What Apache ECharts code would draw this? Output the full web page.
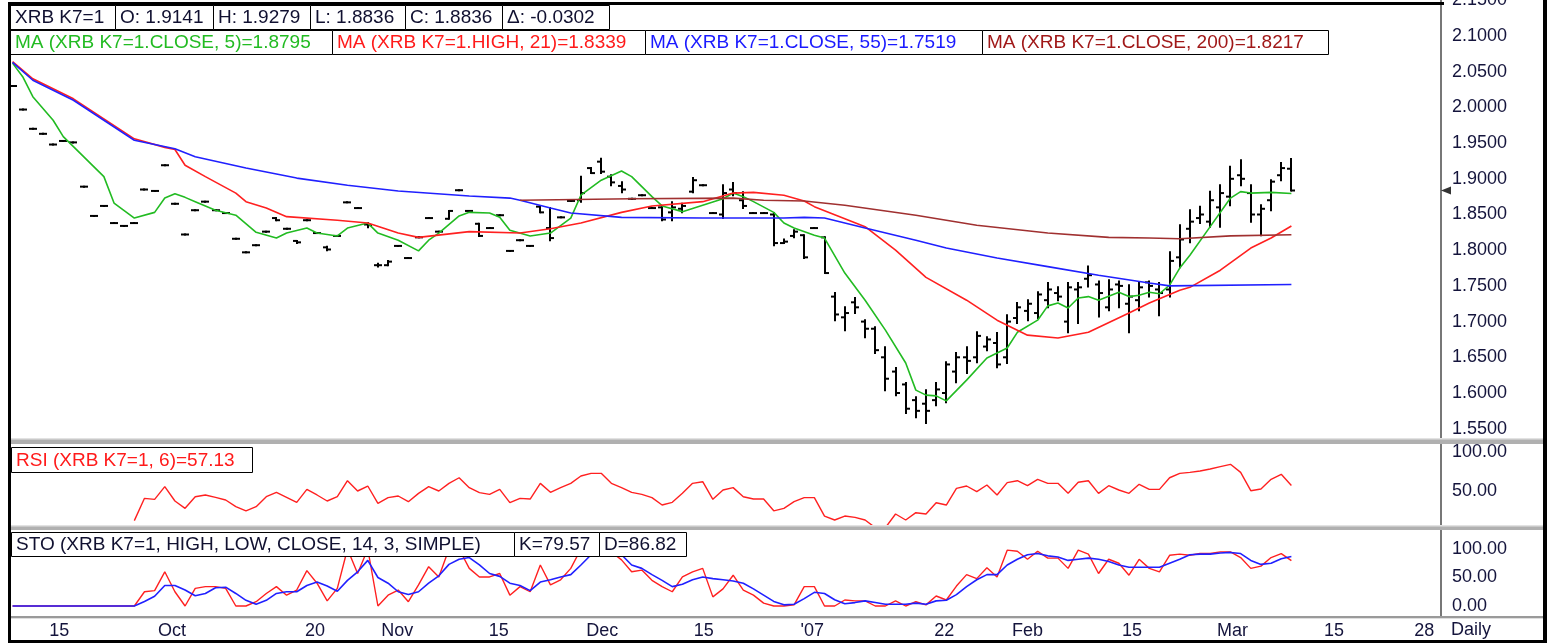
<!DOCTYPE html>
<html><head><meta charset="utf-8">
<script src="https://cdn.jsdelivr.net/npm/echarts@6/dist/echarts.min.js"></script>
<style>html,body{margin:0;padding:0;background:#fff}#c{width:1551px;height:643px}</style>
</head><body><div id="c"></div><script>
// ---- daily bars (index 0 = first visible trading day) ----
const open = [
2.030,1.997,1.970,1.963,1.948,1.953,1.951,1.889,1.848,1.862,
1.838,1.834,1.838,1.885,1.883,1.919,1.865,1.822,1.856,1.868,
1.856,1.852,1.816,1.797,1.807,1.826,1.845,1.830,1.813,1.842,
1.824,1.804,1.820,1.867,1.859,1.836,1.779,1.779,1.806,1.789,
1.818,1.845,1.826,1.844,1.884,1.855,1.837,1.831,1.849,1.799,
1.814,1.806,1.861,1.831,1.846,1.869,1.870,1.915,1.924,1.903,
1.890,1.872,1.877,1.859,1.860,1.853,1.858,1.882,1.891,1.852,
1.850,1.885,1.870,1.852,1.852,1.850,1.810,1.820,1.821,1.831,
1.818,1.735,1.706,1.727,1.700,1.690,1.650,1.630,1.612,1.590,
1.585,1.590,1.600,1.630,1.650,1.650,1.665,1.670,1.650,1.705,
1.715,1.712,1.730,1.740,1.700,1.745,1.760,1.752,1.720,1.752,
1.725,1.730,1.755,1.745,1.745,1.790,1.830,1.845,1.840,1.860,
1.875,1.905,1.880,1.850,1.870,1.905,1.9141];
const high = [
2.030,1.997,1.970,1.963,1.948,1.953,1.951,1.889,1.848,1.862,
1.838,1.834,1.838,1.885,1.883,1.919,1.865,1.822,1.856,1.868,
1.856,1.852,1.816,1.797,1.807,1.826,1.845,1.830,1.813,1.842,
1.824,1.805,1.820,1.867,1.859,1.838,1.781,1.785,1.806,1.789,
1.818,1.845,1.826,1.855,1.884,1.855,1.837,1.831,1.849,1.799,
1.814,1.806,1.861,1.859,1.846,1.869,1.903,1.915,1.928,1.905,
1.895,1.872,1.877,1.859,1.861,1.867,1.865,1.901,1.891,1.852,
1.891,1.894,1.881,1.852,1.852,1.852,1.815,1.828,1.821,1.831,
1.818,1.740,1.720,1.733,1.702,1.692,1.664,1.635,1.614,1.594,
1.604,1.614,1.643,1.656,1.664,1.685,1.678,1.684,1.709,1.726,
1.730,1.741,1.754,1.748,1.754,1.754,1.777,1.756,1.758,1.756,
1.751,1.754,1.756,1.754,1.797,1.835,1.856,1.861,1.882,1.891,
1.917,1.926,1.891,1.863,1.898,1.922,1.9279];
const low = [
2.030,1.997,1.970,1.963,1.948,1.953,1.951,1.889,1.848,1.862,
1.838,1.834,1.838,1.885,1.883,1.919,1.865,1.822,1.856,1.868,
1.856,1.852,1.816,1.797,1.807,1.826,1.842,1.830,1.810,1.842,
1.824,1.800,1.820,1.867,1.859,1.832,1.777,1.779,1.806,1.789,
1.818,1.845,1.826,1.844,1.884,1.855,1.820,1.831,1.849,1.799,
1.814,1.806,1.853,1.814,1.846,1.869,1.868,1.908,1.908,1.891,
1.881,1.872,1.877,1.859,1.842,1.842,1.853,1.881,1.891,1.852,
1.845,1.877,1.859,1.852,1.852,1.807,1.810,1.818,1.789,1.831,
1.768,1.702,1.688,1.712,1.678,1.656,1.604,1.597,1.572,1.566,
1.558,1.583,1.587,1.615,1.628,1.643,1.660,1.636,1.642,1.698,
1.702,1.705,1.720,1.730,1.685,1.698,1.749,1.707,1.716,1.720,
1.685,1.716,1.735,1.709,1.735,1.776,1.811,1.838,1.833,1.833,
1.863,1.891,1.840,1.821,1.856,1.898,1.8836];
const close = [
2.030,1.997,1.970,1.963,1.948,1.953,1.951,1.889,1.848,1.862,
1.838,1.834,1.838,1.885,1.883,1.919,1.865,1.822,1.856,1.868,
1.856,1.852,1.816,1.797,1.807,1.826,1.842,1.830,1.811,1.842,
1.824,1.801,1.820,1.867,1.859,1.835,1.779,1.784,1.806,1.789,
1.818,1.845,1.826,1.855,1.884,1.855,1.820,1.831,1.849,1.799,
1.814,1.806,1.853,1.817,1.846,1.869,1.880,1.908,1.910,1.895,
1.885,1.872,1.877,1.859,1.843,1.860,1.862,1.898,1.891,1.852,
1.880,1.880,1.862,1.852,1.852,1.810,1.812,1.826,1.790,1.831,
1.768,1.710,1.712,1.720,1.690,1.660,1.620,1.600,1.578,1.575,
1.575,1.605,1.640,1.650,1.645,1.680,1.675,1.640,1.700,1.720,
1.725,1.738,1.745,1.735,1.748,1.748,1.765,1.740,1.745,1.750,
1.735,1.748,1.750,1.740,1.785,1.815,1.840,1.850,1.870,1.880,
1.900,1.900,1.850,1.858,1.896,1.915,1.8836];

// ---- moving averages as [bar, value] ----
const ma5 = [[0,2.062],[1,2.043],[2,2.015],[4,1.982],[5,1.959],[7,1.931],[9,1.903],[10,1.866],[12,1.845],[14,1.853],[15,1.873],[16,1.879],[17,1.874],[18,1.868],[20,1.856],[22,1.849],[24,1.825],[26,1.817],[27,1.824],[29,1.831],[30,1.824],[32,1.820],[33,1.831],[35,1.838],[36,1.824],[38,1.814],[40,1.799],[41,1.814],[42,1.824],[44,1.848],[45,1.853],[47,1.852],[48,1.846],[49,1.828],[51,1.820],[53,1.824],[55,1.845],[56,1.877],[58,1.898],[60,1.911],[61,1.903],[63,1.875],[64,1.862],[66,1.854],[68,1.863],[70,1.872],[71,1.880],[72,1.875],[73,1.868],[75,1.853],[76,1.838],[77,1.831],[79,1.821],[80,1.817],[82,1.768],[84,1.730],[86,1.688],[88,1.642],[89,1.604],[90,1.597],[91,1.596],[92,1.589],[94,1.618],[96,1.649],[98,1.663],[99,1.685],[101,1.702],[102,1.722],[103,1.726],[104,1.719],[105,1.733],[106,1.735],[107,1.730],[109,1.741],[110,1.735],[111,1.737],[112,1.741],[113,1.739],[114,1.751],[115,1.775],[116,1.793],[118,1.833],[120,1.873],[121,1.882],[122,1.880],[124,1.881],[126,1.8795]];
const ma21 = [[0,2.064],[2,2.040],[4,2.026],[6,2.012],[9,1.984],[12,1.956],[15,1.944],[16,1.941],[17,1.919],[19,1.903],[22,1.880],[23,1.868],[25,1.859],[27,1.847],[32,1.842],[35,1.838],[38,1.824],[40,1.818],[45,1.826],[50,1.824],[53,1.830],[56,1.838],[60,1.853],[63,1.862],[68,1.868],[71,1.880],[73,1.881],[76,1.877],[78,1.869],[79,1.861],[84,1.833],[87,1.800],[90,1.762],[94,1.730],[97,1.702],[100,1.681],[103,1.677],[106,1.685],[110,1.712],[112,1.726],[115,1.744],[116,1.748],[119,1.772],[122,1.803],[124,1.817],[126,1.8339]];
const ma55 = [[0,2.063],[2,2.038],[4,2.024],[6,2.010],[9,1.982],[12,1.954],[16,1.942],[18,1.931],[23,1.915],[28,1.901],[33,1.891],[38,1.883],[45,1.876],[49,1.873],[50,1.870],[53,1.859],[55,1.852],[60,1.846],[68,1.845],[76,1.845],[78,1.846],[80,1.845],[84,1.831],[89,1.814],[92,1.803],[97,1.789],[102,1.777],[107,1.765],[112,1.754],[114,1.750],[126,1.7519]];
const ma200 = [[50,1.870],[61,1.872],[71,1.873],[74,1.870],[78,1.869],[82,1.863],[89,1.849],[95,1.835],[102,1.824],[108,1.818],[112,1.817],[115,1.816],[120,1.820],[126,1.8217]];

// ---- indicators per bar ----
const rsi = [
null,null,null,null,null,null,null,null,null,null,
null,null,12,40.6,39.3,55.6,37.2,27.8,42.7,44.9,
41.9,38.5,29.9,24.4,29.9,42.7,48.3,41.9,35.5,52.1,
44.9,37.2,42.7,63.2,50,56.4,34.2,41.5,43.6,36.3,
47,55.6,50,59.8,67,54.3,47.9,45.7,52.1,35,
40.6,39.7,59.8,48.3,54.3,59.8,69.2,72.6,72.6,59.8,
54.3,48.3,45.7,41.5,32,35.5,47,59.8,61.9,39.3,
51.3,54.3,42.7,39.7,39.7,24.6,27.8,36.3,41.5,41.5,
17.9,12.8,17.9,16.2,12.8,3,3,20.5,12.8,22.2,
20.5,35,32,53.4,56.4,49.1,57.7,44.9,60.7,63.2,
56.8,65,59.8,59.8,47,61.2,63.2,47,56.8,51.3,
47,58.6,52.1,52.1,67,72.6,73.9,75.6,78.2,81.2,
84.2,73.9,50.4,52.6,65,71.4,57.13];
const stoK = [
0,0,0,0,0,0,0,0,0,0,
0,0,0,25,27,60,25,0,31,34,
34,31,0,0,7.5,22,34,19,28,62,
40,9,31,100,57,100,0,19,28,7.5,
37,69,51,100,100,66,51,51,57,19,
34,25,72,37,46,66,100,100,100,95,
81,60,63,45,34,25,51,60,66,16,
30,54,28,19,5,0,0,2,34,34,
0,0,10.5,9,9,0,0,9,0,7.5,
2,17.5,10.5,35,55,48,67,51,98,96,
82,96,84,84,66,98,91,57,82,75,
54,82,66,60,89,91,89,92,92,95,
95,85,66,70,85,92,79.57];
const stoD = [
0,0,0,0,0,0,0,0,0,0,
0,0,0,8,17,36,36,28,18,22,
32,33,22,10,3,10,22,25,25,36,
42,35,26,45,60,80,50,40,25,20,
25,40,53,73,82,85,72,57,52,40,
36,27,42,46,51,55,72,90,100,98,
90,72,66,55,45,34,38,46,51,48,
46,44,40,30,19,8,2,3,13,24,
22,11,4,6,9,6,3,3,3,5,
3,9,10,20,34,46,55,55,72,82,
90,92,88,86,80,82,84,82,78,72,
68,68,68,68,75,82,90,91,91,93,
94,92,80,73,75,83,86.82];

// ---- tick labels ----
const xTickPos  = [4.6, 15.7, 29.8, 37.9, 47.9, 58.1, 68.1, 78.8, 91.8, 100.0, 110.3, 120.2, 130.2, 139.1];
const xTickText = ['15','Oct','20','Nov','15','Dec','15',"'07",'22','Feb','15','Mar','15','28'];
const priceTicks = [1.55,1.60,1.65,1.70,1.75,1.80,1.85,1.90,1.95,2.00,2.05,2.10,2.15];
const rsiTicks = [50,100];
const stoTicks = [0,50,100];
const lastClose = 1.8836;

// ---- build ----
const FONT = 'Liberation Sans';
const LBL = '#14143c';
const XMIN = -0.25, XMAX = 140.74;
const ohlc = open.map((o,i)=>[i,o,high[i],low[i],close[i]]);
const idx = a => a.map((v,i)=>[i,v]);

function box(x,y,w,h,text,color){
  return [
    {type:'rect', z:100, shape:{x:x+0.5,y:y+0.5,width:w,height:h}, style:{fill:'#fff',stroke:'#000',lineWidth:1}},
    {type:'text', z:101, x:x+5, y:y+h/2+1, style:{text:text, fill:color, fontSize:19, fontFamily:FONT, verticalAlign:'middle'}}
  ];
}
const G = [];
[['XRB K7=1',10,105],['O: 1.9141',115,98],['H: 1.9279',213,97],['L: 1.8836',310,95],['C: 1.8836',405,97],['\u0394: -0.0302',502,107]]
  .forEach(b=>G.push(...box(b[1],5,b[2],24,b[0],'#101030')));
[['MA (XRB K7=1.CLOSE, 5)=1.8795',10,322,'#22bb22'],['MA (XRB K7=1.HIGH, 21)=1.8339',332,313,'#ff1a1a'],['MA (XRB K7=1.CLOSE, 55)=1.7519',645,337,'#1a1aff'],['MA (XRB K7=1.CLOSE, 200)=1.8217',982,346,'#a01818']]
  .forEach(b=>G.push(...box(b[1],30,b[2],24,b[0],b[3])));
G.push(...box(11,447,241,25,'RSI (XRB K7=1, 6)=57.13','#ff1a1a'));
G.push(...box(11,532,503,24,'STO (XRB K7=1, HIGH, LOW, CLOSE, 14, 3, SIMPLE)','#101030'));
G.push(...box(514,532,85,24,'K=79.57','#101030'));
G.push(...box(599,532,87,24,'D=86.82','#101030'));
// panel separators
[[438,444],[525,530]].forEach(([a,b])=>{
  G.push({type:'rect',z:90,shape:{x:8,y:a,width:1538,height:b-a},style:{fill:'#b0b0b0'}});
  G.push({type:'rect',z:91,shape:{x:8,y:a,width:1538,height:1.5},style:{fill:'#e2e2e2'}});
});
G.push({type:'rect',z:90,shape:{x:8,y:616,width:1538,height:2},style:{fill:'#9a9a9a'}});
G.push({type:'rect',z:90,shape:{x:8,y:618,width:1538,height:1},style:{fill:'#dedede'}});
// frame
G.push({type:'rect',z:110,shape:{x:8,y:2,width:1436,height:3},style:{fill:'#000'}});
G.push({type:'rect',z:110,shape:{x:8,y:2,width:3,height:641},style:{fill:'#000'}});
G.push({type:'rect',z:110,shape:{x:8,y:640,width:1539,height:3},style:{fill:'#000'}});
G.push({type:'rect',z:110,shape:{x:1543,y:0,width:4,height:643},style:{fill:'#000'}});
G.push({type:'text',z:101,x:1451,y:630,style:{text:'Daily',fill:LBL,fontSize:18,fontFamily:FONT,verticalAlign:'middle'}});

function yAx(grid,min,max,ticks,dec){
  return {gridIndex:grid,type:'value',position:'right',min:min,max:max,
    axisLine:{show:true,onZero:false,lineStyle:{color:'#777',width:2}},
    axisTick:{show:false},splitLine:{show:false},
    axisLabel:{customValues:ticks,formatter:v=>v.toFixed(dec),margin:11,fontSize:18,fontFamily:FONT,color:LBL}};
}
function xAx(grid,show){
  return {gridIndex:grid,type:'value',min:XMIN,max:XMAX,show:show,
    axisLine:{show:false},axisTick:{show:false},splitLine:{show:false},
    axisLabel:{customValues:xTickPos,margin:6,fontSize:18,fontFamily:FONT,color:LBL,
      formatter:v=>{const k=xTickPos.findIndex(p=>Math.abs(p-v)<1e-6);return k>=0?xTickText[k]:'';}}};
}
const lineS = (name,data,color,xi,yi,w)=>({name,type:'line',xAxisIndex:xi,yAxisIndex:yi,data,showSymbol:false,symbol:'none',
  lineStyle:{color,width:w||1.6},itemStyle:{color},silent:true,animation:false});

const gridBase = {left:10,right:110,containLabel:false,outerBoundsMode:'none'};
const option = {
  animation:false,
  graphic:G,
  grid:[
    Object.assign({top:0,height:438},gridBase),
    Object.assign({top:444,height:81},gridBase),
    Object.assign({top:530,height:86},gridBase)
  ],
  xAxis:[xAx(0,false),xAx(1,false),xAx(2,true)],
  yAxis:[
    yAx(0, 2.1-402/714, 2.1+36/714, priceTicks, 4),
    yAx(1, (530-525)/0.78, (530-444)/0.78, rsiTicks, 2),
    yAx(2, -10/0.57, 76/0.57, stoTicks, 2)
  ],
  series:[
    lineS('MA5',ma5,'#22bb22',0,0),
    lineS('MA21',ma21,'#ff2020',0,0),
    lineS('MA55',ma55,'#2020ff',0,0),
    lineS('MA200',ma200,'#a03030',0,0),
    {type:'custom',xAxisIndex:0,yAxisIndex:0,data:ohlc,silent:true,
     renderItem:function(params,api){
       const x=api.value(0);
       const pO=api.coord([x,api.value(1)]),pH=api.coord([x,api.value(2)]),
             pL=api.coord([x,api.value(3)]),pC=api.coord([x,api.value(4)]);
       const cx=Math.round(pH[0]);
       const st={stroke:'#000',lineWidth:2};
       return {type:'group',children:[
         {type:'line',shape:{x1:cx,y1:pH[1]-1,x2:cx,y2:pL[1]+1},style:st},
         {type:'line',shape:{x1:cx-4,y1:pO[1],x2:cx,y2:pO[1]},style:st},
         {type:'line',shape:{x1:cx,y1:pC[1],x2:cx+4,y2:pC[1]},style:st}
       ]};
     }},
    {type:'scatter',xAxisIndex:0,yAxisIndex:0,data:[[XMAX,lastClose]],clip:false,silent:true,
     symbol:'path://M0,5 L10,0 L10,10 Z',symbolSize:[10,8],symbolOffset:[5,0],itemStyle:{color:'#000'}},
    lineS('RSI',idx(rsi),'#ff2020',1,1,1.4),
    lineS('K',idx(stoK),'#ff2020',2,2,1.4),
    lineS('D',idx(stoD),'#2020ff',2,2,1.6)
  ]
};
const chart = echarts.init(document.getElementById('c'),null,{renderer:'canvas',width:1551,height:643});
chart.setOption(option);
</script></body></html>
